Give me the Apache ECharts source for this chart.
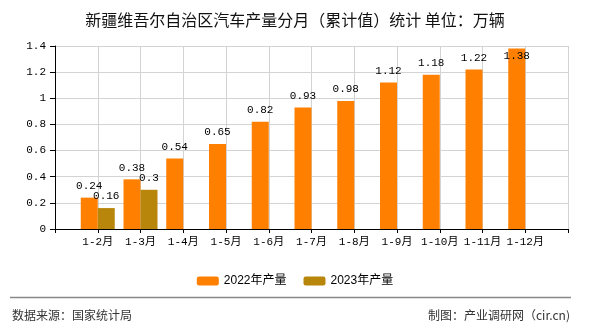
<!DOCTYPE html>
<html>
<head>
<meta charset="utf-8">
<script src="https://cdn.jsdelivr.net/npm/echarts@6/dist/echarts.min.js"></script>
<style>
html,body{margin:0;padding:0;background:#fff;}
#c{width:590px;height:330px;}
</style>
</head>
<body>
<div id="c"></div>
<script>
const titleText = '新疆维吾尔自治区汽车产量分月（累计值）统计 单位：万辆';
const categories = ['1-2月','1-3月','1-4月','1-5月','1-6月','1-7月','1-8月','1-9月','1-10月','1-11月','1-12月'];
const series2022Name = '2022年产量';
const series2023Name = '2023年产量';
const values2022 = [0.24, 0.38, 0.54, 0.65, 0.82, 0.93, 0.98, 1.12, 1.18, 1.22, 1.38];
const values2023 = [0.16, 0.3];
const yTicks = [0, 0.2, 0.4, 0.6, 0.8, 1, 1.2, 1.4];
const sourceText = '数据来源：国家统计局';
const makerText = '制图：产业调研网（cir.cn)';

const monoFont = '"Liberation Mono", "Noto Sans CJK SC", monospace';
const cjkFont = '"Noto Sans CJK SC", "Liberation Sans", sans-serif';

// pad categories with an empty slot at each end (axis points on ticks)
const axisCats = [''].concat(categories, ['']);
const yMax = yTicks[yTicks.length - 1];
function pad(arr) {
  const out = ['-'];
  for (let i = 0; i < categories.length; i++) out.push(i < arr.length ? arr[i] : '-');
  out.push('-');
  return out;
}
const d2022 = pad(values2022).map(function (v) {
  if (v !== '-' && v >= yMax * 0.97) {
    return { value: v, label: { position: 'insideTop', distance: 2 } };
  }
  return v;
});
const d2023 = pad(values2023);

const chart = echarts.init(document.getElementById('c'), null, { renderer: 'canvas' });
chart.setOption({
  backgroundColor: '#fff',
  animation: false,
  title: {
    text: titleText,
    left: 'center',
    top: 7,
    textStyle: { fontFamily: cjkFont, fontSize: 16, fontWeight: 'normal', color: '#111' }
  },
  legend: {
    data: [series2022Name, series2023Name],
    left: 'center',
    top: 270,
    itemWidth: 22,
    itemHeight: 9,
    itemGap: 17,
    textStyle: { fontFamily: '"Liberation Sans", "Noto Sans CJK SC", sans-serif', fontSize: 12, color: '#000' }
  },
  grid: { left: 55, right: 22, top: 46, bottom: 101, containLabel: false },
  xAxis: {
    type: 'category',
    data: axisCats,
    boundaryGap: false,
    axisLine: { lineStyle: { color: '#000', width: 1 } },
    axisTick: { show: true, interval: 0, length: 4, lineStyle: { color: '#000' } },
    axisLabel: { interval: 0, margin: 8, fontFamily: monoFont, fontSize: 11, color: '#000' },
    splitLine: { show: true, interval: 0, lineStyle: { color: '#d3d3d3', width: 1 } }
  },
  yAxis: {
    type: 'value',
    min: yTicks[0],
    max: yMax,
    interval: 0.2,
    axisLine: { show: true, lineStyle: { color: '#000', width: 1 } },
    axisTick: { show: true, length: 5, lineStyle: { color: '#000' } },
    axisLabel: { margin: 9, fontFamily: monoFont, fontSize: 11, color: '#000' },
    splitLine: { show: true, lineStyle: { color: '#d3d3d3', width: 1 } }
  },
  series: [
    {
      name: series2022Name,
      type: 'bar',
      data: d2022,
      barWidth: 17,
      barGap: '0%',
      itemStyle: { color: '#FF8000' },
      label: { show: true, position: 'top', distance: 6, fontFamily: monoFont, fontSize: 11, color: '#000' }
    },
    {
      name: series2023Name,
      type: 'bar',
      data: d2023,
      barWidth: 17,
      barGap: '0%',
      itemStyle: { color: '#B8860B' },
      label: { show: true, position: 'top', distance: 6, fontFamily: monoFont, fontSize: 11, color: '#000' }
    }
  ],
  graphic: [
    {
      type: 'line',
      shape: { x1: 10, y1: 297.5, x2: 571, y2: 297.5 },
      style: { stroke: '#888', lineWidth: 1.5 }
    },
    {
      type: 'text',
      left: 12,
      top: 309,
      style: { text: sourceText, fontFamily: cjkFont, fontSize: 12, fill: '#333' }
    },
    {
      type: 'text',
      right: 20,
      top: 309,
      style: { text: makerText, fontFamily: cjkFont, fontSize: 12, fill: '#333' }
    }
  ]
});
</script>
</body>
</html>
